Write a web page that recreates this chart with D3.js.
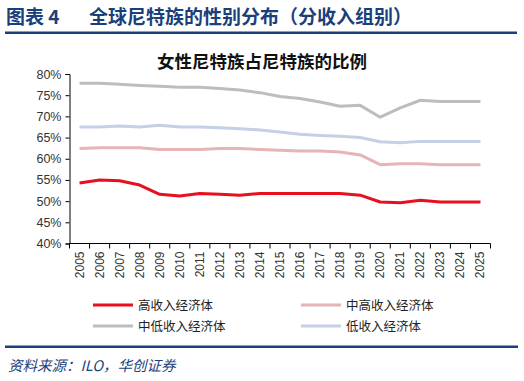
<!DOCTYPE html>
<meta charset="utf-8">
<style>
  body { margin: 0; background: #fff; }
  svg text { font-family: "Liberation Sans", Arial, sans-serif; }
  .cjk { font-family: "Noto Sans CJK SC", sans-serif; }
</style>
<body>
<script src="https://d3js.org/d3.v7.min.js"></script>
<script>
// years on the x axis
var years = ["2005","2006","2007","2008","2009","2010","2011","2012","2013","2014","2015",
             "2016","2017","2018","2019","2020","2021","2022","2023","2024","2025"];

// share of women among NEET, %
var highIncome  = [54.3,55.0,54.8,53.8,51.6,51.2,51.8,51.6,51.4,51.8,51.8,51.8,51.8,51.8,51.4,49.8,49.6,50.2,49.8,49.8,49.8];
var upperMiddle = [62.4,62.6,62.6,62.6,62.2,62.2,62.2,62.4,62.4,62.2,62.0,61.8,61.8,61.6,60.9,58.6,58.8,58.8,58.6,58.6,58.6];
var lowerMiddle = [77.8,77.8,77.6,77.3,77.1,76.9,76.9,76.6,76.2,75.6,74.7,74.2,73.4,72.4,72.6,69.8,72.0,73.8,73.5,73.5,73.5];
var lowIncome   = [67.5,67.5,67.7,67.5,67.9,67.5,67.5,67.3,67.1,66.8,66.3,65.8,65.5,65.3,65.0,64.0,63.8,64.1,64.1,64.1,64.1];

var seriesNames = ["高收入经济体","中高收入经济体","中低收入经济体","低收入经济体"];
var seriesColors = ["#e8101e","#e6b4b4","#bdbdbd","#c5cfe6"];
var yTicks = [40,45,50,55,60,65,70,75,80];

var W = 524, H = 381;
var svg = d3.select("body").append("svg").attr("width", W).attr("height", H);

// header
svg.append("text").attr("class","cjk")
  .attr("x", 6).attr("y", 24)
  .attr("fill", "#1b3f7a").attr("font-size", 19).attr("font-weight", "bold")
  .text("图表 4");
svg.append("text").attr("class","cjk")
  .attr("x", 89).attr("y", 24)
  .attr("fill", "#1b3f7a").attr("font-size", 19).attr("font-weight", "bold")
  .text("全球尼特族的性别分布（分收入组别）");
svg.append("rect").attr("x", 5).attr("y", 31.5).attr("width", 512).attr("height", 2.5).attr("fill", "#1b3f7a");

// chart title
svg.append("text").attr("class","cjk")
  .attr("x", 262).attr("y", 68).attr("text-anchor", "middle")
  .attr("fill", "#111").attr("font-size", 17.5).attr("font-weight", "bold")
  .text("女性尼特族占尼特族的比例");

var plotL = 69.5, plotR = 490.5, plotT = 74, plotB = 243.5;

var x = d3.scaleBand().domain(years).range([plotL, plotR]);
var y = d3.scaleLinear().domain([40, 80]).range([plotB, plotT]);

// y axis
var gy = svg.append("g").attr("transform", "translate(" + plotL + ",0)")
  .call(d3.axisLeft(y).tickValues(yTicks).tickSize(4).tickPadding(4)
    .tickFormat(function(d) { return d + "%"; }));
gy.selectAll("text").attr("font-size", 12.5).attr("fill", "#333")
  .attr("font-family", "'Liberation Sans', Arial, sans-serif");
gy.select(".domain").attr("stroke", "#000");
gy.selectAll(".tick line").attr("stroke", "#000");

// x axis, ticks on category boundaries
var gx = svg.append("g").attr("transform", "translate(0," + plotB + ")");
gx.append("line").attr("x1", plotL).attr("x2", plotR).attr("stroke", "#000");
var bounds = years.map(function(d) { return x(d); }).concat([plotR]);
gx.selectAll(".tk").data(bounds).enter().append("line")
  .attr("x1", function(d) { return d; }).attr("x2", function(d) { return d; })
  .attr("y1", 0).attr("y2", 5).attr("stroke", "#000");
gx.selectAll(".lbl").data(years).enter().append("text")
  .attr("transform", function(d) {
    return "translate(" + (x(d) + x.bandwidth() / 2 + 4) + ",8) rotate(-90)";
  })
  .attr("text-anchor", "end").attr("font-size", 12).attr("fill", "#333")
  .text(function(d) { return d; });

// lines
var allSeries = [highIncome, upperMiddle, lowerMiddle, lowIncome];
var line = d3.line()
  .x(function(d, i) { return x(years[i]) + x.bandwidth() / 2; })
  .y(function(d) { return y(d); });

// draw from back to front
[2, 3, 1, 0].forEach(function(k) {
  svg.append("path").datum(allSeries[k])
    .attr("fill", "none").attr("stroke", seriesColors[k])
    .attr("stroke-width", 3).attr("stroke-linejoin", "round")
    .attr("d", line);
});

// legend
var legPos = [[93, 305], [301, 305], [93, 326], [301, 326]];
seriesNames.forEach(function(n, k) {
  var g = svg.append("g").attr("transform", "translate(" + legPos[k][0] + "," + legPos[k][1] + ")");
  g.append("line").attr("x1", 0).attr("x2", 40).attr("stroke", seriesColors[k]).attr("stroke-width", 3);
  g.append("text").attr("class","cjk").attr("x", 45).attr("y", 4.5)
    .attr("font-size", 12.5).attr("fill", "#222").text(n);
});

// footer
svg.append("rect").attr("x", 5).attr("y", 345.5).attr("width", 513).attr("height", 2.5).attr("fill", "#1b3f7a");
svg.append("text").attr("class","cjk")
  .attr("x", 8).attr("y", 371).attr("fill", "#1b3f7a").attr("font-size", 14.5)
  .attr("font-style", "italic")
  .text("资料来源：ILO，华创证券");
</script>
</body>
